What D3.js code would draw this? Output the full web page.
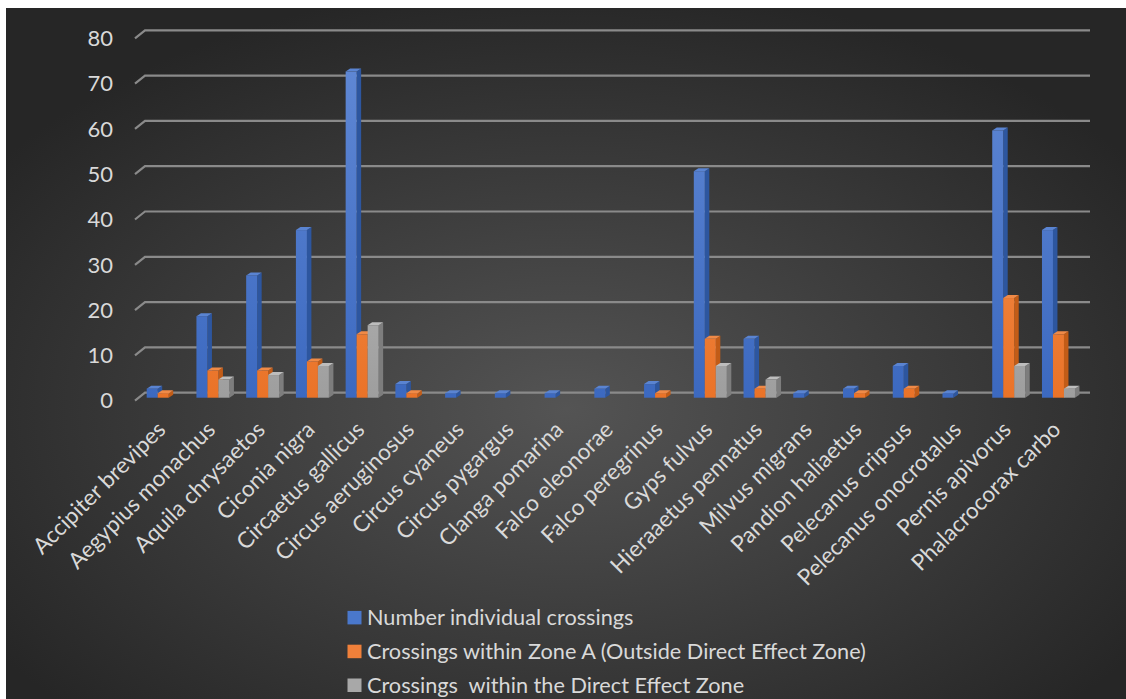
<!DOCTYPE html>
<html>
<head>
<meta charset="utf-8">
<script src="https://cdn.jsdelivr.net/npm/d3@7/dist/d3.min.js"></script>
<style>
  html, body { margin: 0; padding: 0; background: #ffffff; }
  svg { display: block; }
  text { font-family: Lato, "Open Sans", sans-serif; fill: #d9d9d9; }
</style>
</head>
<body>
<svg id="chart" width="1126" height="699"></svg>
<script>
// Species crossing counts by zone
const categories = [
  "Accipiter brevipes", "Aegypius monachus", "Aquila chrysaetos", "Ciconia nigra",
  "Circaetus gallicus", "Circus aeruginosus", "Circus cyaneus", "Circus pygargus",
  "Clanga pomarina", "Falco eleonorae", "Falco peregrinus", "Gyps fulvus",
  "Hieraaetus pennatus", "Milvus migrans", "Pandion haliaetus", "Pelecanus cripsus",
  "Pelecanus onocrotalus", "Pernis apivorus", "Phalacrocorax carbo"
];
const seriesNames = [
  "Number individual crossings",
  "Crossings within Zone A (Outside Direct Effect Zone)",
  "Crossings  within the Direct Effect Zone"
];
const individualCrossings = [2, 18, 27, 37, 72, 3, 1, 1, 1, 2, 3, 50, 13, 1, 2, 7, 1, 59, 37];
const zoneACrossings      = [1, 6, 6, 8, 14, 1, 0, 0, 0, 0, 1, 13, 2, 0, 1, 2, 0, 22, 14];
const directZoneCrossings = [0, 4, 5, 7, 16, 0, 0, 0, 0, 0, 0, 7, 4, 0, 0, 0, 0, 7, 2];
const yTicks = [0, 10, 20, 30, 40, 50, 60, 70, 80];

const seriesValues = [individualCrossings, zoneACrossings, directZoneCrossings];

const svg = d3.select("#chart");
const defs = svg.append("defs");

// Dark radial backdrop
const bg = defs.append("radialGradient").attr("id", "bg")
  .attr("cx", "50%").attr("cy", "58%").attr("r", "62%");
bg.append("stop").attr("offset", "0%").attr("stop-color", "#545454");
bg.append("stop").attr("offset", "100%").attr("stop-color", "#262626");
svg.append("rect").attr("x", 6).attr("y", 8).attr("width", 1120).attr("height", 691)
  .attr("fill", "url(#bg)");

// Geometry of the 3D plot
const plotLeft = 145, plotRight = 1090;
const floorDx = 10, floorDy = 8;      // depth of the floor at the left wall
const barDx = 4.5, barDy = 3;         // depth of each column
const frontBase = 397.7, backBase = 392.7;

const x = d3.scaleBand().domain(categories).range([plotLeft, plotRight]).padding(0);
const sub = d3.scaleBand().domain(d3.range(3)).range([1.7, 1.7 + 33]).padding(0);
const yFront = d3.scaleLinear().domain([0, 80]).range([frontBase, frontBase - 80 * 4.53]);
const yBack = d3.scaleLinear().domain([0, 80]).range([backBase, backBase - 80 * 4.53]);

// Column shading
const palettes = [
  { light: "#628ad6", dark: "#3c69c0", side: "#2d569f", cap: "#5a84d2" },
  { light: "#f69a5c", dark: "#ea7328", side: "#c25c17", cap: "#f08a47" },
  { light: "#cccccc", dark: "#9e9e9e", side: "#7d7d7d", cap: "#bdbdbd" }
];
palettes.forEach((p, i) => {
  const g = defs.append("linearGradient").attr("id", "front" + i)
    .attr("gradientUnits", "userSpaceOnUse")
    .attr("x1", 0).attr("y1", yFront(80)).attr("x2", 0).attr("y2", frontBase);
  g.append("stop").attr("offset", "0%").attr("stop-color", p.light);
  g.append("stop").attr("offset", "100%").attr("stop-color", p.dark);
});

// Gridlines on the back wall with the short floor/wall edge at the left
const grid = svg.append("g");
yTicks.forEach(t => {
  const yb = yBack(t);
  grid.append("path")
    .attr("d", `M${plotLeft - floorDx},${yb + floorDy}L${plotLeft},${yb}L${plotRight},${yb}`)
    .attr("fill", "none").attr("stroke", "#8a8a8a").attr("stroke-width", 2.2);
  grid.append("text")
    .attr("x", 113).attr("y", yb + floorDy)
    .attr("dy", "0.35em")
    .attr("text-anchor", "end")
    .attr("font-size", 22)
    .text(t);
});

// Columns
const bars = svg.append("g");
categories.forEach((c, ci) => {
  seriesValues.forEach((vals, si) => {
    const v = vals[ci];
    if (!v) return;
    const p = palettes[si];
    const x0 = x(c) + sub(si), w = sub.bandwidth();
    const y0 = yFront(v), yb = frontBase;
    const g = bars.append("g");
    // right side face
    g.append("path")
      .attr("d", `M${x0 + w},${y0}L${x0 + w + barDx},${y0 - barDy}L${x0 + w + barDx},${yb - barDy}L${x0 + w},${yb}Z`)
      .attr("fill", p.side);
    // top face
    g.append("path")
      .attr("d", `M${x0},${y0}L${x0 + barDx},${y0 - barDy}L${x0 + w + barDx},${y0 - barDy}L${x0 + w},${y0}Z`)
      .attr("fill", p.cap);
    // front face
    g.append("rect")
      .attr("x", x0).attr("y", y0).attr("width", w).attr("height", yb - y0)
      .attr("fill", `url(#front${si})`);
  });
});

// Category labels, rotated
const labels = svg.append("g");
categories.forEach(c => {
  const px = x(c) + x.bandwidth() / 2 - 3, py = 431;
  labels.append("text")
    .attr("transform", `translate(${px},${py}) rotate(-45)`)
    .attr("text-anchor", "end")
    .attr("font-size", 22.5)
    .text(c);
});

// Legend
const legendColors = ["#4a78cc", "#f0803a", "#a8a8a8"];
const legend = svg.append("g");
seriesNames.forEach((name, i) => {
  const cy = 617.7 + i * 33.8;
  legend.append("rect")
    .attr("x", 347.5).attr("y", cy - 6.8).attr("width", 14).attr("height", 13.5)
    .attr("fill", legendColors[i]);
  legend.append("text")
    .attr("x", 367).attr("y", cy).attr("dy", "0.35em")
    .attr("font-size", 21.7)
    .style("white-space", "pre")
    .text(name);
});
</script>
</body>
</html>
